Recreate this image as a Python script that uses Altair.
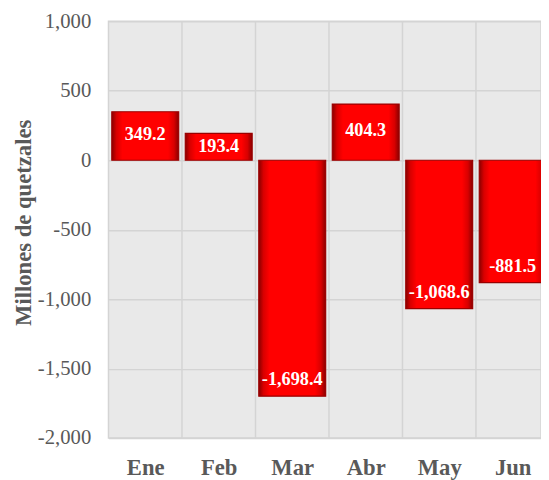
import altair as alt
import pandas as pd

meses = ["Ene", "Feb", "Mar", "Abr", "May", "Jun"]
valores = [349.2, 193.4, -1698.4, 404.3, -1068.6, -881.5]
y_ticks = [-2000, -1500, -1000, -500, 0, 500, 1000]

df = pd.DataFrame({"mes": meses, "v": valores, "i": list(range(len(meses)))})

FONT = "Liberation Serif"
GRAY = "#595959"
GRID = "#d4d4d4"

y_scale = alt.Scale(domain=[-2000, 1000], nice=False, zero=False)
y_axis = alt.Axis(
    values=y_ticks,
    labelExpr="replace(format(datum.value, ',.0f'), '\u2212', '-')",
    title="Millones de quetzales",
    titleFont=FONT, titleFontSize=23, titleFontWeight="bold", titleColor=GRAY,
    titleX=-86, titleY=204, titleBaseline="middle", titleAngle=-90,
    labelFont=FONT, labelFontSize=21, labelColor=GRAY, labelPadding=18,
    ticks=False, domain=False, grid=True, gridColor=GRID, gridWidth=1.5,
)

label_expr = "[" + ",".join("'%s'" % m for m in meses) + "][datum.value]"
x_scale = alt.Scale(domain=[-0.5, 5.385], nice=False, zero=False)
x_axis = alt.Axis(
    values=list(range(len(meses))), labelExpr=label_expr,
    title=None, labelAngle=0, labelFont=FONT, labelFontSize=23,
    labelFontWeight="bold", labelColor=GRAY, labelPadding=19,
    ticks=False, domain=False, grid=False,
)


def yenc(field):
    return alt.Y(field, scale=y_scale, axis=y_axis)


def xenc(field):
    return alt.X(field, scale=x_scale, axis=x_axis)


# vertical grid lines at category boundaries
vgrid = alt.Chart(df).transform_calculate(b="datum.i + 0.5").mark_rule(
    color=GRID, strokeWidth=1.5, clip=True
).encode(x=xenc("b:Q"))

grad = alt.Gradient(
    gradient="linear", x1=0, x2=1, y1=0, y2=0,
    stops=[
        alt.GradientStop(offset=0, color="#8a0000"),
        alt.GradientStop(offset=0.07, color="#d80000"),
        alt.GradientStop(offset=0.16, color="#ff0000"),
        alt.GradientStop(offset=0.84, color="#ff0000"),
        alt.GradientStop(offset=0.93, color="#d80000"),
        alt.GradientStop(offset=1, color="#8a0000"),
    ],
)

bars = alt.Chart(df).transform_calculate(
    x0="datum.i - 0.455", x1="datum.i + 0.455"
).mark_bar(fill=grad, stroke="#9a0000", strokeWidth=1.2).encode(
    x=xenc("x0:Q"),
    x2="x1:Q",
    y=yenc("v:Q"),
    y2=alt.datum(0),
)

labels = alt.Chart(df).transform_calculate(
    ly="datum.v > 0 ? datum.v * 0.53 : datum.v + 121",
    lbl="replace(format(datum.v, ',.1f'), '\u2212', '-')",
).mark_text(
    font=FONT, fontSize=18.5, fontWeight="bold", color="white",
    align="center", baseline="middle",
).encode(
    x=xenc("i:Q"),
    y=yenc("ly:Q"),
    text="lbl:N",
)

chart = alt.layer(vgrid, bars, labels).properties(
    width=439, height=423,
    autosize=alt.AutoSizeParams(type="none"),
    padding={"left": 102, "top": 10, "right": 0, "bottom": 39},
).configure_view(
    fill="#e9e9e9", stroke=GRID, strokeWidth=1.5,
)

chart.save("out.html", embed_options={"renderer": "svg", "actions": False})
